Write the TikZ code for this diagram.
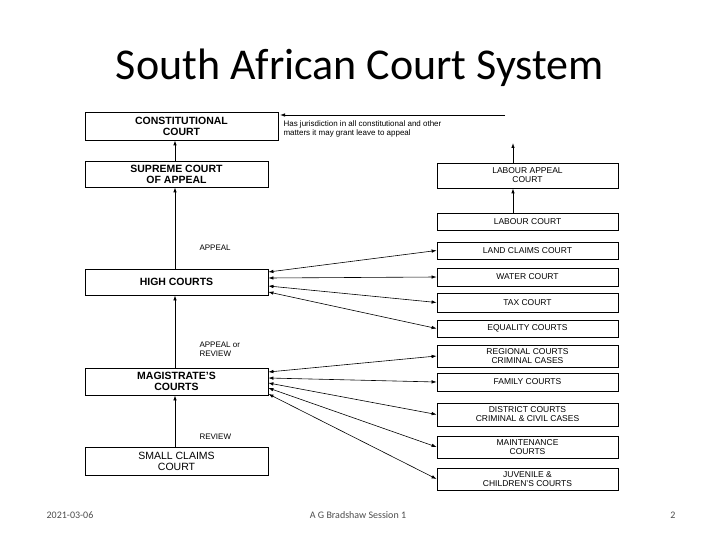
\documentclass[tikz,border=0pt]{standalone}
\usepackage{fontspec}
\setmainfont{Liberation Sans}
\newfontfamily\titlefont{Carlito}
\usetikzlibrary{arrows.meta}
\begin{document}
\begin{tikzpicture}[x=1pt,y=-1pt,
  lbox/.style={draw,thick,minimum width=183pt,align=center,font=\fontsize{10.5}{11}\selectfont\bfseries,inner sep=1pt},
  rbox/.style={draw,thick,minimum width=181pt,align=center,font=\fontsize{8.5}{9}\selectfont,inner sep=1pt},
  arr/.style={-{Latex[length=5pt,width=3.5pt]},thick},
  dbl/.style={{Latex[length=5pt,width=3.5pt]}-{Latex[length=5pt,width=3.5pt]},semithick},
  lab/.style={font=\fontsize{8}{8.5}\selectfont,anchor=west,align=left}]
\useasboundingbox (0,0) rectangle (720,540);
\node[font=\titlefont\fontsize{44}{48}\selectfont] (title) at (360,68) {South African Court System};
% left column
\node[lbox,minimum width=193pt,minimum height=28pt] (cc) at (181.5,126) {CONSTITUTIONAL\\COURT};
\node[lbox,minimum height=26pt] (sca) at (176.5,174) {SUPREME COURT\\OF APPEAL};
\node[lbox,minimum height=26pt] (hc) at (176.5,282) {HIGH COURTS};
\node[lbox,minimum height=27pt] (mc) at (176.5,381.5) {MAGISTRATE'S\\COURTS};
\node[lbox,minimum height=28pt,font=\fontsize{10.5}{11}\selectfont] (sc) at (176.5,461) {SMALL CLAIMS\\COURT};
% right column
\node[rbox,minimum height=25pt] (lac) at (527.5,175.5) {LABOUR APPEAL\\COURT};
\node[rbox,minimum height=17pt] (lc) at (527.5,221.5) {LABOUR COURT};
\node[rbox,minimum height=17pt] (land) at (527.5,250.5) {LAND CLAIMS COURT};
\node[rbox,minimum height=18pt] (water) at (527.5,277) {WATER COURT};
\node[rbox,minimum height=19pt] (tax) at (527.5,302.5) {TAX COURT};
\node[rbox,minimum height=17pt] (eq) at (527.5,328.5) {EQUALITY COURTS};
\node[rbox,minimum height=22pt] (reg) at (527.5,356) {REGIONAL COURTS\\CRIMINAL CASES};
\node[rbox,minimum height=18pt] (fam) at (527.5,382) {FAMILY COURTS};
\node[rbox,minimum height=23pt] (dist) at (527.5,414.5) {DISTRICT COURTS\\CRIMINAL \& CIVIL CASES};
\node[rbox,minimum height=22pt] (maint) at (527.5,447) {MAINTENANCE\\COURTS};
\node[rbox,minimum height=22pt] (juv) at (527.5,479) {JUVENILE \&\\CHILDREN'S COURTS};
% labels
\node[lab] (juris) at (280,129) {Has jurisdiction in all constitutional and other\\matters it may grant leave to appeal};
\node[lab] (l1) at (196,248) {APPEAL};
\node[lab] (l2) at (196,349) {APPEAL or\\REVIEW};
\node[lab] (l3) at (196,437) {REVIEW};
\coordinate (jtop) at (505,115);
\coordinate (jend) at (280,115);
\coordinate (lup) at (513,143);
% vertical arrows
\draw[arr] (sca.north -| 175,0) -- (cc.south -| 175,0);
\draw[arr] (hc.north -| 175,0) -- (sca.south -| 175,0);
\draw[arr] (mc.north -| 175,0) -- (hc.south -| 175,0);
\draw[arr] (sc.north -| 175,0) -- (mc.south -| 175,0);
\draw[arr] (lac.north -| 513,0) -- (lup);
\draw[arr] (lc.north -| 513,0) -- (lac.south -| 513,0);
\draw[arr] (jtop) -- (jend);
% double arrows
\draw[dbl] (hc.east |- 0,272) -- (land.west);
\draw[dbl] (hc.east |- 0,278) -- (water.west);
\draw[dbl] (hc.east |- 0,286) -- (tax.west);
\draw[dbl] (hc.east |- 0,292) -- (eq.west);
\draw[dbl] (mc.east |- 0,372) -- (reg.west);
\draw[dbl] (mc.east |- 0,378) -- (fam.west);
\draw[dbl] (mc.east |- 0,383) -- (dist.west);
\draw[dbl] (mc.east |- 0,388) -- (maint.west);
\draw[dbl] (mc.east |- 0,394) -- (juv.west);
% footer
\node[font=\titlefont\fontsize{10}{12}\selectfont,text=black!70] (f1) at (70,515) {2021-03-06};
\node[font=\titlefont\fontsize{10}{12}\selectfont,text=black!70] (f2) at (358,515) {A G Bradshaw  Session 1};
\node[font=\titlefont\fontsize{10}{12}\selectfont,text=black!70] (f3) at (673,515) {2};
\end{tikzpicture}
\end{document}
